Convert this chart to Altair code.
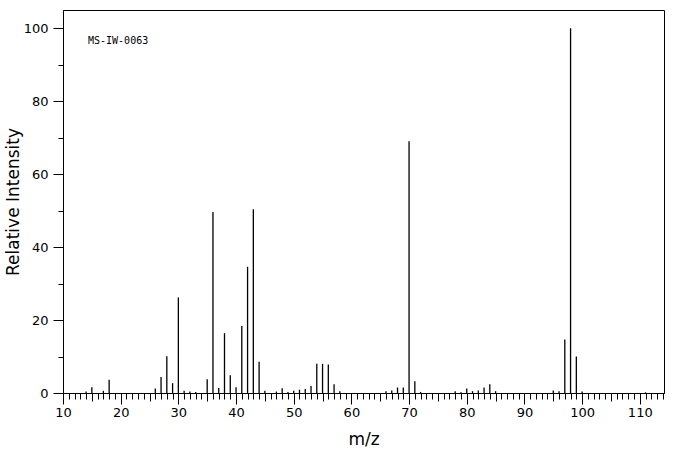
import altair as alt
import pandas as pd

mz = [14, 15, 17, 18, 26, 27, 28, 29, 30, 31, 32, 33, 35, 36, 37, 38, 39, 40,
      41, 42, 43, 44, 45, 47, 48, 49, 50, 51, 52, 53, 54, 55, 56, 57, 58,
      66, 67, 68, 69, 70, 71, 72, 78, 79, 80, 81, 82, 83, 84, 85,
      95, 96, 97, 98, 99, 100, 111]
intensity = [0.4, 1.6, 0.6, 3.6, 1.2, 4.4, 10.1, 2.7, 26.2, 0.6, 0.4, 0.3, 3.8, 49.6, 1.4, 16.4, 4.9, 1.6,
             18.4, 34.6, 50.4, 8.6, 0.6, 0.4, 1.3, 0.3, 0.6, 0.9, 1.1, 1.9, 8.0, 8.0, 7.8, 2.4, 0.5,
             0.5, 0.7, 1.5, 1.5, 69.0, 3.2, 0.3, 0.5, 0.2, 1.2, 0.5, 0.7, 1.5, 2.4, 0.5,
             0.7, 0.5, 14.7, 100.0, 10.0, 0.4, 0.2]
x_ticks = list(range(10, 115))
y_ticks = list(range(0, 101, 10))
label_text = ["MS-IW-0063"]

df = pd.DataFrame({"mz": mz, "intensity": intensity})

x_axis = alt.Axis(
    values=x_ticks,
    labelExpr="datum.value % 10 === 0 ? datum.label : ''",
    tickSize={"condition": [
        {"test": "datum.value % 10 === 0", "value": 11},
        {"test": "datum.value % 5 === 0", "value": 8},
    ], "value": 6},
    grid=False, title="m/z", labelPadding=2, labelFlush=False, labelOverlap=False,
    titlePadding=12,
)
y_axis = alt.Axis(
    values=y_ticks,
    labelExpr="datum.value % 20 === 0 ? datum.label : ''",
    tickSize={"condition": {"test": "datum.value % 20 === 0", "value": 10}, "value": 5},
    grid=False, title="Relative Intensity", labelPadding=5, labelFlush=False,
    labelOverlap=False, titlePadding=1,
)

sticks = alt.Chart(df).mark_rule(color="black", strokeWidth=1.3).encode(
    x=alt.X("mz:Q", scale=alt.Scale(domain=[10, 114.2], nice=False, zero=False), axis=x_axis),
    y=alt.Y("intensity:Q", scale=alt.Scale(domain=[0, 105], nice=False), axis=y_axis),
    y2=alt.datum(0),
)

label = alt.Chart(pd.DataFrame({"t": label_text})).mark_text(
    font="DejaVu Sans Mono", fontSize=10, align="left", baseline="middle", color="black"
).encode(text="t:N", x=alt.value(25), y=alt.value(31))

chart = alt.layer(sticks, label).properties(
    width=601, height=383,
    padding={"left": 63, "top": 10, "right": 12, "bottom": 62},
    autosize="none",
    background="white",
).configure_view(stroke="black", strokeWidth=1).configure_axis(
    labelFont="DejaVu Sans", labelFontSize=13, labelColor="black",
    titleFont="DejaVu Sans", titleFontSize=17, titleFontWeight="normal", titleColor="black",
    tickColor="black", domainColor="black", domainWidth=1, tickWidth=1,
)

chart.save("out.html", embed_options={"renderer": "svg", "actions": False})
